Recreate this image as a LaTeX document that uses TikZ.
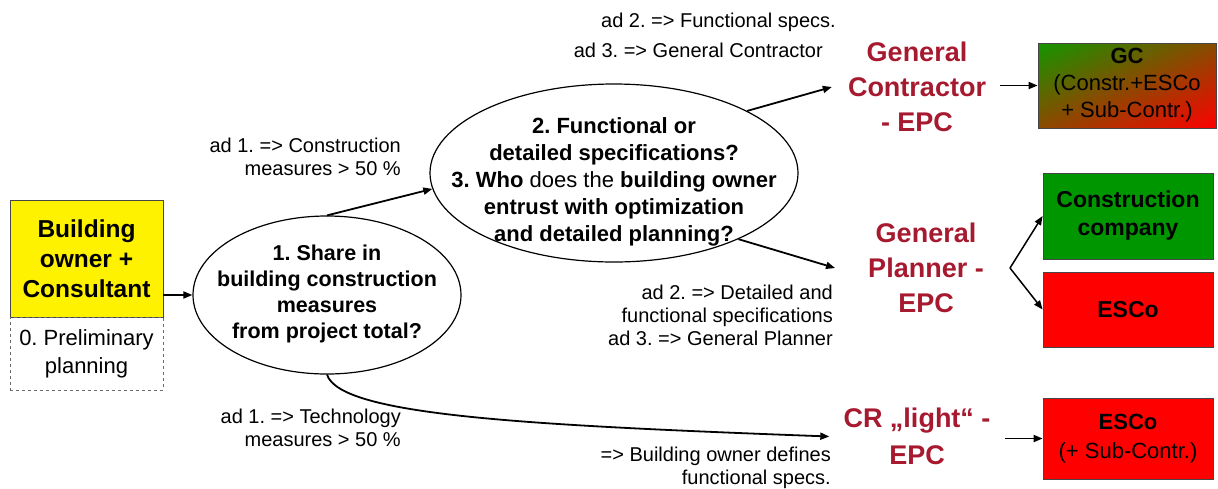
\documentclass[tikz,border=0pt]{standalone}
\usepackage{fontspec}
\setmainfont{Liberation Sans}
\usetikzlibrary{shapes.geometric,arrows.meta}
\definecolor{epcred}{RGB}{166,25,46}
\definecolor{boxgreen}{RGB}{0,150,0}
\definecolor{gcgreen}{RGB}{20,150,0}
\definecolor{boxred}{RGB}{255,0,0}
\definecolor{edgegray}{RGB}{70,70,70}
\frenchspacing
\begin{document}
\begin{tikzpicture}[x=1pt,y=-1pt,
  conn/.style={-{Triangle[length=9pt,width=7pt]}, line width=1.8pt},
  fork/.style={-{Triangle[length=9pt,width=7pt]}, line width=1.5pt},
  lbl/.style={inner sep=0pt, align=right, font=\fontsize{20}{23}\selectfont},
  epc/.style={inner xsep=14pt, inner ysep=2pt, align=center, text=epcred, font=\bfseries\fontsize{27}{35}\selectfont},
  oval/.style={ellipse, draw, line width=1.2pt, inner sep=0pt},
  ovaltext/.style={align=center, inner sep=0pt},
  colbox/.style={rectangle, draw=edgegray, line width=0.8pt, align=center, inner sep=0pt},
  diaggrad/.style={path picture={
      \shade[left color=gcgreen, right color=boxred]
        (path picture bounding box.south west) rectangle (path picture bounding box.north east);
      \shade[top color=gcgreen, bottom color=boxred, opacity=0.5]
        (path picture bounding box.south west) rectangle (path picture bounding box.north east);}}
]
\useasboundingbox (0,0) rectangle (1218,488);

% left side
\node[colbox, fill=yellow, minimum width=153pt, minimum height=117pt,
      font=\bfseries\fontsize{24.5}{30}\selectfont] (owner) at (86.5,258.5)
      {Building\\owner +\\Consultant};
\node[colbox, dashed, draw=edgegray!80, minimum width=153pt, minimum height=73pt,
      font=\fontsize{22}{28}\selectfont] (prelim) at (86.5,353.5) {0. Preliminary\\planning};

% ellipses
\node[oval, minimum width=268pt, minimum height=158pt] (e1) at (327,295) {};
\node[ovaltext, font=\bfseries\fontsize{21.5}{26}\selectfont] (e1t) at (327,294)
  {1. Share in\\building construction\\measures\\from project total?};
\node[oval, minimum width=368pt, minimum height=178pt] (e2) at (614,173) {};
\node[ovaltext, font=\bfseries\fontsize{22}{27}\selectfont] (e2t) at (614,182)
  {2. Functional or\\detailed specifications?\\3. Who {\mdseries does the} building owner\\entrust with optimization\\and detailed planning?};

% EPC labels
\node[epc] (gcl) at (917,87) {General\\Contractor\\- EPC};
\node[epc] (gpl) at (926,268) {General\\Planner -\\EPC};
\node[epc, font=\bfseries\fontsize{27}{37}\selectfont] (crl) at (917,436.5) {CR „light“ -\\EPC};

% right boxes
\node[colbox, diaggrad,
      minimum width=178pt, minimum height=85pt, font=\fontsize{22}{27}\selectfont] (gc) at (1127,85.5)
      {\textbf{GC}\\(Constr.+ESCo\\+ Sub-Contr.)};
\node[colbox, fill=boxgreen, minimum width=170pt, minimum height=86pt,
      font=\bfseries\fontsize{23}{28}\selectfont] (cc) at (1128,216) {Construction\\company};
\node[colbox, fill=boxred, minimum width=170pt, minimum height=75pt,
      font=\bfseries\fontsize{23}{28}\selectfont] (esco) at (1128,309.5) {ESCo};
\node[colbox, fill=boxred, minimum width=170pt, minimum height=81pt,
      font=\fontsize{22}{29}\selectfont] (esco2) at (1128,438.5) {\textbf{ESCo}\\(+ Sub-Contr.)};

% annotation texts
\node[lbl, anchor=east] (t1) at (401,156.5) {ad 1. => Construction\\measures > 50 \%};
\node[lbl, anchor=east] (t2a) at (836,22) {ad 2. => Functional specs.};
\node[lbl, anchor=east] (t2b) at (823,50) {ad 3. => General Contractor};
\node[lbl, anchor=east] (t3) at (833,315) {ad 2. => Detailed and\\functional specifications\\ad 3. => General Planner};
\node[lbl, anchor=east] (t4) at (401,428) {ad 1. => Technology\\measures > 50 \%};
\node[lbl, anchor=east] (t5) at (831,468) {=> Building owner defines\\functional specs.};

% connectors
\draw[conn] (owner.east |- e1.west) -- (e1.west);
\draw[conn] (e1.north) -- (e2.185);
\draw[conn] (e2.25) -- ([xshift=-2pt]gcl.west);
\draw[conn] (gcl.east |- gc.west) -- (gc.west);
\draw[conn] (e2.-28) -- ([xshift=-19pt]gpl.west);
\coordinate (forkpt) at (1010,268);
\draw[fork] (forkpt) -- (cc.west);
\draw[fork] (forkpt) -- (esco.west);
\draw[conn] (e1.south) .. controls (340,415) and (520,425) .. (crl.west);
\draw[conn] (crl.east |- esco2.west) -- (esco2.west);
\end{tikzpicture}
\end{document}
